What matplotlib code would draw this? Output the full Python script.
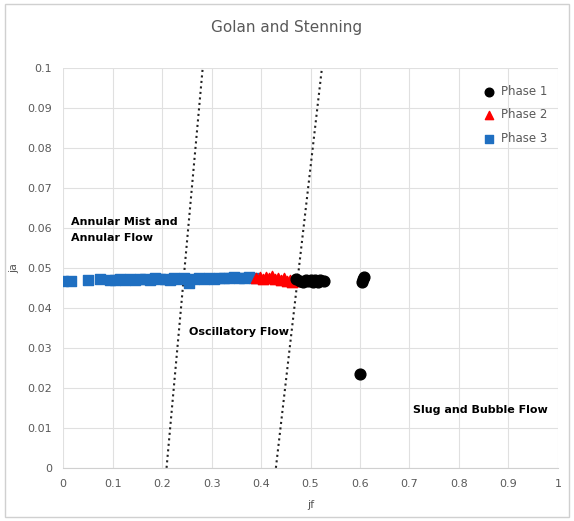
import matplotlib.pyplot as plt

# data
phase1_jf = [0.470, 0.478, 0.485, 0.490, 0.495, 0.500, 0.505, 0.510, 0.515, 0.520, 0.528,
             0.605, 0.607, 0.609, 0.600]
phase1_ja = [0.0472, 0.0468, 0.0465, 0.0470, 0.0467, 0.0471, 0.0466, 0.0469, 0.0465, 0.0470, 0.0468,
             0.0465, 0.0472, 0.0478, 0.0235]

phase2_jf = [0.390, 0.397, 0.403, 0.410, 0.416, 0.422, 0.428, 0.434, 0.440, 0.446, 0.452, 0.458, 0.463, 0.468]
phase2_ja = [0.0475, 0.0478, 0.0472, 0.0477, 0.0474, 0.0479, 0.0473, 0.0476, 0.0470, 0.0474, 0.0468,
             0.0471, 0.0464, 0.0467]

phase3_jf = [0.000, 0.015, 0.050, 0.075, 0.095, 0.105, 0.115, 0.125, 0.135, 0.145, 0.155, 0.165,
             0.175, 0.185, 0.195, 0.205, 0.215, 0.225, 0.235, 0.245, 0.255, 0.265, 0.275, 0.285,
             0.295, 0.305, 0.315, 0.325, 0.335, 0.345, 0.355, 0.365, 0.375, 0.385]
phase3_ja = [0.0468, 0.0468, 0.0470, 0.0472, 0.0470, 0.0471, 0.0472, 0.0470, 0.0473, 0.0471, 0.0472,
             0.0473, 0.0471, 0.0474, 0.0472, 0.0473, 0.0471, 0.0474, 0.0472, 0.0475, 0.0462, 0.0473,
             0.0474, 0.0472, 0.0475, 0.0473, 0.0474, 0.0476, 0.0475, 0.0477, 0.0476, 0.0475, 0.0477, 0.0476]

# transition boundaries (dotted)
line1_jf = [0.209, 0.282]
line2_jf = [0.430, 0.523]
line_ja = [0.0, 0.1]

grey = "#595959"

fig = plt.figure(figsize=(5.74, 5.21), dpi=100)
ax = fig.add_axes([0.110, 0.102, 0.862, 0.767])

ax.plot(line1_jf, line_ja, color="#222222", linestyle=":", linewidth=1.5, zorder=2)
ax.plot(line2_jf, line_ja, color="#222222", linestyle=":", linewidth=1.5, zorder=2)

ax.scatter(phase3_jf, phase3_ja, marker="s", s=55, color="#1f6fc1", label="Phase 3", zorder=3)
ax.scatter(phase2_jf, phase2_ja, marker="^", s=55, color="#ff0000", label="Phase 2", zorder=4)
ax.scatter(phase1_jf, phase1_ja, marker="o", s=60, color="black", label="Phase 1", zorder=5)

ax.set_xlim(0, 1)
ax.set_ylim(0, 0.1)
ax.set_xticks([i / 10 for i in range(11)])
ax.set_yticks([i / 100 for i in range(11)])
ax.set_xticklabels(["0", "0.1", "0.2", "0.3", "0.4", "0.5", "0.6", "0.7", "0.8", "0.9", "1"])
ax.set_yticklabels(["0", "0.01", "0.02", "0.03", "0.04", "0.05", "0.06", "0.07", "0.08", "0.09", "0.1"])
ax.tick_params(length=0, labelsize=8, colors=grey, pad=8)
ax.grid(color="#e0e0e0", linewidth=0.8)
ax.set_axisbelow(True)
for s in ["top", "right", "left"]:
    ax.spines[s].set_visible(False)
ax.spines["bottom"].set_color("#d0d0d0")

ax.set_xlabel("jf", color=grey, fontsize=8, labelpad=8)
ax.set_ylabel("ja", color=grey, fontsize=8, labelpad=6)
fig.text(0.5, 0.947, "Golan and Stenning", ha="center", va="center", color=grey, fontsize=11)

ax.text(0.015, 0.0595, "Annular Mist and\nAnnular Flow", fontsize=8, fontweight="bold",
        ha="left", va="center", linespacing=1.7)
ax.text(0.255, 0.034, "Oscillatory Flow", fontsize=8, fontweight="bold", ha="left", va="center")
ax.text(0.708, 0.0145, "Slug and Bubble Flow", fontsize=8, fontweight="bold", ha="left", va="center")

handles, labels = ax.get_legend_handles_labels()
leg = ax.legend(handles[::-1], labels[::-1], loc="upper right", bbox_to_anchor=(1.0, 0.985),
                frameon=False, fontsize=8.5, handletextpad=0.0, labelspacing=0.9, markerscale=0.8)
for t in leg.get_texts():
    t.set_color(grey)

# outer chart border
fig.patches.append(plt.Rectangle((0.008, 0.008), 0.984, 0.984, transform=fig.transFigure,
                                 fill=False, edgecolor="#d0d0d0", linewidth=1))

fig.savefig("out.png", dpi=100)
